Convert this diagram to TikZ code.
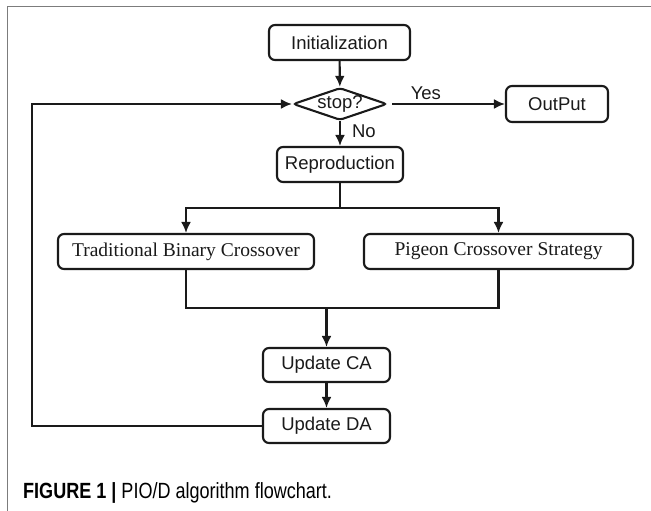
\documentclass[tikz,border=0pt]{standalone}
\usepackage{fontspec}
\setmainfont{Liberation Sans}
\newfontfamily\serifbox{Liberation Serif}
\newfontfamily\capfont[FakeStretch=0.82]{Liberation Sans}
\usetikzlibrary{shapes.geometric,arrows.meta}
\definecolor{linec}{HTML}{1A1A1A}
\definecolor{framec}{HTML}{7C7C7C}
\begin{document}
\begin{tikzpicture}[x=1pt,y=-1pt,
  box/.style={draw=linec, line width=2.1pt, rounded corners=6pt, minimum height=35pt,
    inner sep=0pt, text=linec, font=\fontsize{18.5}{20}\selectfont},
  sbox/.style={box, font=\serifbox\fontsize{19.5}{22}\selectfont},
  decision/.style={draw=linec, line width=2.1pt, diamond, aspect=2.9, rounded corners=3pt,
    inner sep=0pt, minimum width=94pt, minimum height=32pt, text=linec,
    font=\fontsize{18.5}{20}\selectfont},
  conn/.style={draw=linec, line width=2.1pt},
  arr/.style={conn, -{Latex[length=11pt,width=10pt]}},
  lab/.style={text=linec, font=\fontsize{18.5}{20}\selectfont, inner sep=2pt}]
\useasboundingbox (0,0) rectangle (651,511);
\fill[white] (0,0) rectangle (651,511);
\draw[framec, line width=1.5pt] (651,6.5) -- (7.5,6.5) -- (7.5,511);

\node[box, minimum width=141pt] (init) at (339.5,42.5) {Initialization};
\node[decision] (stop) at (340,104) {stop?};
\node[box, minimum width=102pt, minimum height=36pt] (out) at (557,104) {OutPut};
\node[box, minimum width=126pt] (repro) at (340,164.5) {Reproduction};
\node[sbox, minimum width=256pt] (trad) at (186,251.5) {Traditional Binary Crossover};
\node[sbox, minimum width=269pt] (pig) at (498.5,251.5) {Pigeon Crossover Strategy};
\node[box, minimum width=127pt, minimum height=34pt] (ca) at (326.5,365) {Update CA};
\node[box, minimum width=127pt, minimum height=34pt] (da) at (326.5,426) {Update DA};

\coordinate (ys) at (392,104);
\coordinate (sp) at (340,208);
\coordinate (jn) at (326.5,308);
\coordinate (lb) at (32,426);
\coordinate (lt) at (32,104);

\draw[arr] (init) -- (stop);
\draw[arr] (ys) -- node[lab, above=1pt, pos=0.3] (yes) {Yes} (out);
\draw[arr] (stop) -- node[lab, right=9pt, pos=0.4] (no) {No} (repro);
\draw[conn] (repro) -- (sp);
\draw[arr] (sp) -| (trad);
\draw[arr] (sp) -| (pig);
\draw[conn] (trad.south) |- (jn);
\draw[conn] (pig.south) |- (jn);
\draw[arr] (jn) -- (ca);
\draw[arr] (ca) -- (da);
\draw[arr] (da.west) -- (lb) -- (lt) -- (stop.west);

\node[anchor=base west, inner sep=0pt, text=black, font=\capfont\fontsize{22}{24}\selectfont]
  (cap) at (23,498) {\textbf{FIGURE 1 |} PIO/D algorithm flowchart.};
\end{tikzpicture}
\end{document}
